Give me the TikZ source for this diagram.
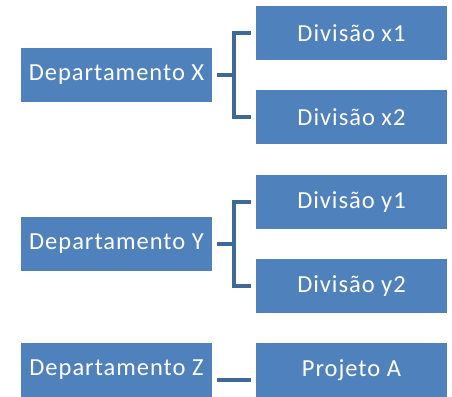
\documentclass[tikz,border=0pt]{standalone}
\usepackage{fontspec}
\setmainfont{Carlito}[LetterSpace=4]
\definecolor{boxblue}{HTML}{4F81BD}
\definecolor{connblue}{HTML}{3E6896}
\begin{document}
\begin{tikzpicture}[x=1pt,y=-1pt,
  box/.style={fill=boxblue, draw=none, text=white, minimum width=191pt, minimum height=54pt,
    inner sep=0pt, font=\fontsize{24.5}{28}\selectfont},
  conn/.style={draw=connblue, line width=4pt}]
\useasboundingbox (0,0) rectangle (452,396);
\node[box] (deptX) at (116.5,75) {Departamento X};
\node[box] (divx1) at (351.5,33) {Divisão x1};
\node[box] (divx2) at (351.5,117) {Divisão x2};
\node[box] (deptY) at (116.5,244) {Departamento Y};
\node[box] (divy1) at (351.5,202) {Divisão y1};
\node[box] (divy2) at (351.5,286) {Divisão y2};
\node[box] (deptZ) at (116.5,370) {Departamento Z};
\node[box] (projA) at (351.5,370) {Projeto A};
\coordinate (jx) at (234,75);
\coordinate (jy) at (234,244);
\draw[conn] ([xshift=5pt]deptX.east) -- (jx);
\draw[conn] ([xshift=-5pt]divx1.west) -| (jx) |- ([xshift=-5pt]divx2.west);
\draw[conn] ([xshift=5pt]deptY.east) -- (jy);
\draw[conn] ([xshift=-5pt]divy1.west) -| (jy) |- ([xshift=-5pt]divy2.west);
\draw[conn] ([xshift=5pt,yshift=-10pt]deptZ.east) -- ([xshift=-5pt,yshift=-10pt]projA.west);
\end{tikzpicture}
\end{document}
